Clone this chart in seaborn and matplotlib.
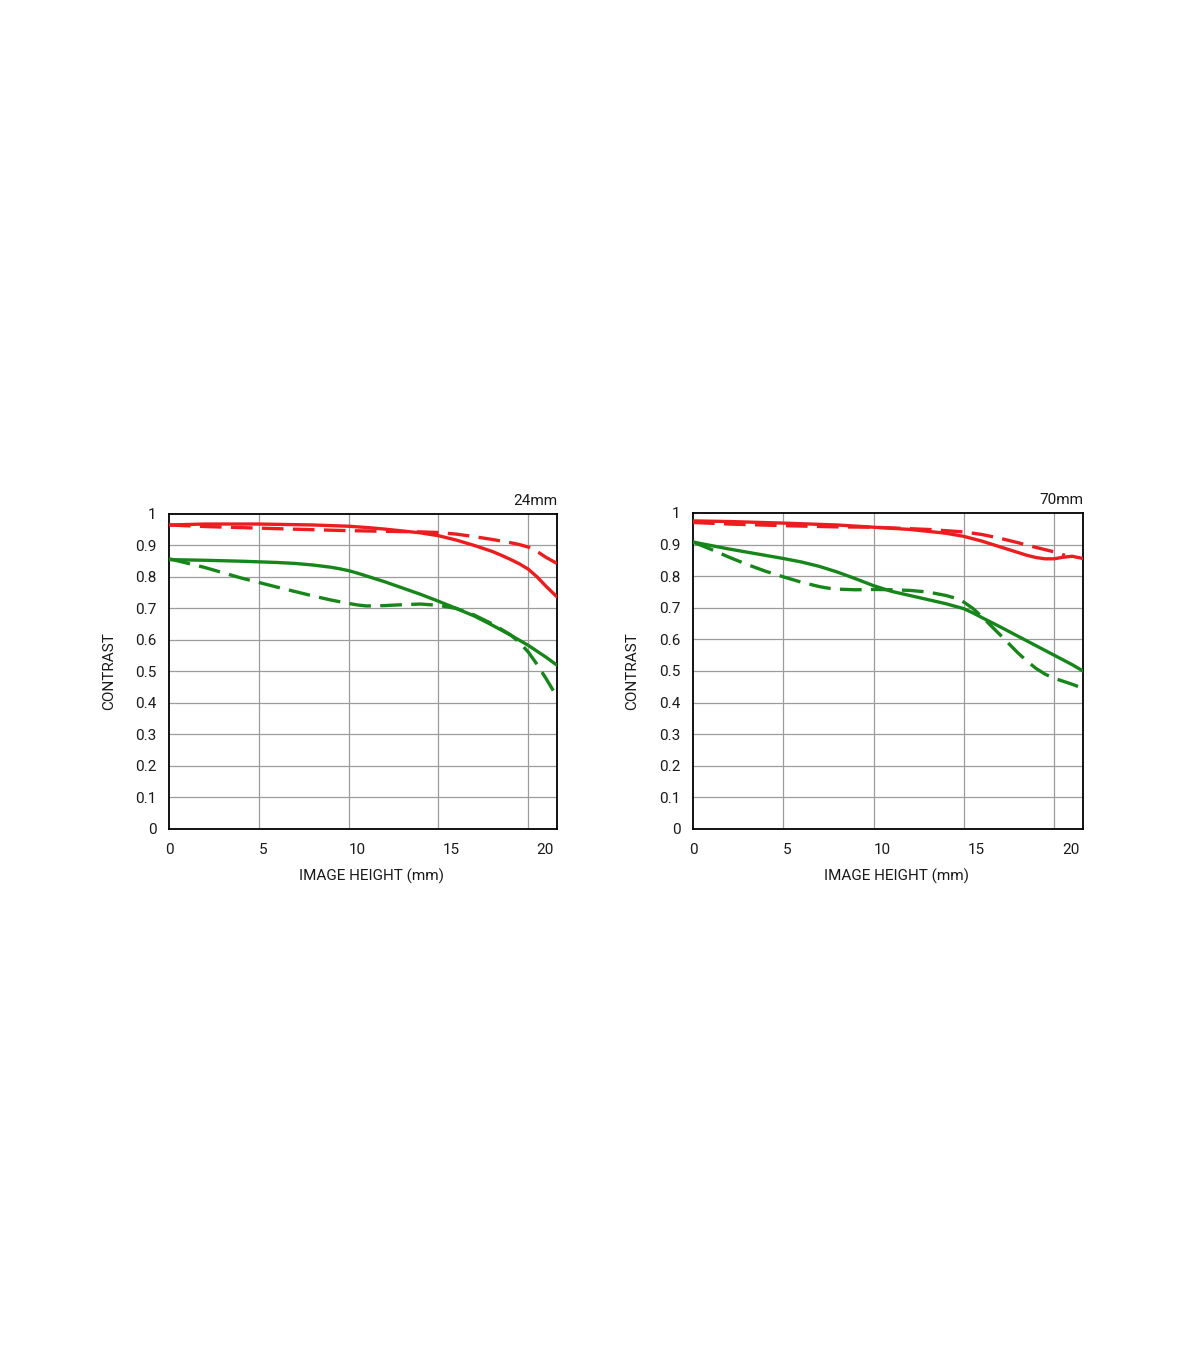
import matplotlib as mpl
mpl.use('agg')
import matplotlib.pyplot as plt
import numpy as np
import pandas as pd
import seaborn as sns

# MTF values (image height in mm -> contrast)
x_24_rs = [0, 2, 5, 8, 10, 11, 12, 13, 14, 15, 16, 17, 18, 18.5, 19, 19.5, 20, 20.5, 21, 21.6]
y_24_rs = [0.965, 0.968, 0.968, 0.965, 0.961, 0.957, 0.952, 0.946, 0.94, 0.931, 0.917, 0.9, 0.881, 0.869, 0.856, 0.842, 0.825, 0.80, 0.77, 0.737]
x_24_rd = [0, 2, 5, 8, 10, 12, 14, 15, 16, 17, 18, 19, 19.5, 20, 20.6, 21, 21.6]
y_24_rd = [0.965, 0.96, 0.955, 0.95, 0.947, 0.945, 0.943, 0.941, 0.936, 0.928, 0.919, 0.909, 0.903, 0.895, 0.877, 0.862, 0.843]
x_24_gs = [0, 2, 4, 6, 7, 8, 9, 9.5, 10, 10.5, 11, 11.5, 12, 13, 14, 15, 16, 17, 18, 19, 20, 21, 21.6]
y_24_gs = [0.855, 0.853, 0.85, 0.846, 0.843, 0.838, 0.831, 0.826, 0.82, 0.812, 0.803, 0.794, 0.785, 0.765, 0.745, 0.723, 0.70, 0.676, 0.647, 0.616, 0.583, 0.545, 0.52]
x_24_gd = [0, 2, 4, 6, 8, 9, 10, 10.5, 11, 12, 13, 14, 15, 16, 17, 18, 19, 19.5, 20, 20.5, 21, 21.6]
y_24_gd = [0.858, 0.83, 0.797, 0.768, 0.74, 0.727, 0.716, 0.711, 0.708, 0.709, 0.712, 0.714, 0.71, 0.70, 0.679, 0.651, 0.617, 0.593, 0.562, 0.522, 0.477, 0.42]

x_70_rs = [0, 2, 5, 8, 10, 12, 14, 15, 16, 17, 18, 18.5, 19, 19.5, 20, 20.5, 21, 21.6]
y_70_rs = [0.975, 0.973, 0.968, 0.962, 0.955, 0.948, 0.936, 0.926, 0.911, 0.893, 0.875, 0.866, 0.859, 0.855, 0.855, 0.86, 0.863, 0.856]
x_70_rd = [0, 2, 5, 8, 10, 13, 15, 16, 17, 18, 19, 20, 20.6]
y_70_rd = [0.97, 0.965, 0.96, 0.956, 0.955, 0.948, 0.94, 0.932, 0.92, 0.906, 0.891, 0.877, 0.866]
x_70_gs = [0, 2, 4, 5, 6, 7, 8, 9, 10, 11, 12, 13, 14, 15, 15.5, 16, 17, 18, 19, 20, 21, 21.6]
y_70_gs = [0.908, 0.886, 0.866, 0.856, 0.845, 0.831, 0.813, 0.792, 0.77, 0.752, 0.739, 0.726, 0.713, 0.697, 0.684, 0.669, 0.64, 0.61, 0.58, 0.55, 0.52, 0.50]
x_70_gd = [0, 1, 2, 3, 4, 5, 6, 7, 7.5, 8, 9, 10, 11, 12, 13, 14, 14.5, 15, 15.5, 16, 17, 18, 18.5, 19, 19.5, 20, 21, 21.6]
y_70_gd = [0.908, 0.885, 0.86, 0.837, 0.816, 0.798, 0.781, 0.767, 0.762, 0.759, 0.757, 0.758, 0.757, 0.755, 0.75, 0.739, 0.731, 0.718, 0.698, 0.672, 0.615, 0.557, 0.531, 0.508, 0.49, 0.477, 0.458, 0.445]

x_ticks = [0, 5, 10, 15, 20]
y_ticks = [0, 0.1, 0.2, 0.3, 0.4, 0.5, 0.6, 0.7, 0.8, 0.9, 1]
y_labels = ['0', '0.1', '0.2', '0.3', '0.4', '0.5', '0.6', '0.7', '0.8', '0.9', '1']

panels = {
    '24mm': [('red', 'S', x_24_rs, y_24_rs), ('red', 'M', x_24_rd, y_24_rd),
             ('green', 'S', x_24_gs, y_24_gs), ('green', 'M', x_24_gd, y_24_gd)],
    '70mm': [('red', 'S', x_70_rs, y_70_rs), ('red', 'M', x_70_rd, y_70_rd),
             ('green', 'S', x_70_gs, y_70_gs), ('green', 'M', x_70_gd, y_70_gd)],
}

sns.set_style("white")
plt.rcParams['font.family'] = ['Roboto', 'DejaVu Sans']

fig = plt.figure(figsize=(12, 13.72), dpi=100)
positions = {'24mm': [0.1408, 0.3958, 0.3233, 0.2296],
             '70mm': [0.5775, 0.3958, 0.3250, 0.2303]}

palette = {'red': '#ec1c1f', 'green': '#17861a'}
dashes = {'S': '', 'M': (6.5, 2.8)}
txt_col = '#1a1a1a'

for name, series in panels.items():
    ax = fig.add_axes(positions[name])
    rows = []
    for col, kind, xs, ys in series:
        for xv, yv in zip(xs, ys):
            rows.append({'x': xv, 'y': yv, 'col': col, 'kind': kind, 'id': col + kind})
    df = pd.DataFrame(rows)
    sns.lineplot(data=df, x='x', y='y', hue='col', style='kind', units='id',
                 estimator=None, sort=False, palette=palette, dashes=dashes,
                 linewidth=2.4, legend=False, ax=ax, zorder=3)

    ax.set_xlim(0, 21.6)
    ax.set_ylim(0, 1)
    # grid lines at the real values
    for gx in x_ticks[1:]:
        ax.axvline(gx, color='#9c9c9c', lw=0.9, zorder=1)
    for gy in y_ticks[1:-1]:
        ax.axhline(gy, color='#9c9c9c', lw=0.9, zorder=1)
    # tick labels in the original sit slightly right of their grid lines
    ax.set_xticks([t * 1.047 for t in x_ticks])
    ax.set_xticklabels([str(t) for t in x_ticks])
    ax.set_yticks(y_ticks)
    ax.set_yticklabels(y_labels)
    ax.tick_params(axis='both', length=0, labelsize=11, colors=txt_col)
    ax.tick_params(axis='x', pad=10)
    ax.tick_params(axis='y', pad=9)
    for sp in ax.spines.values():
        sp.set_visible(True)
        sp.set_color('black')
        sp.set_linewidth(1.3)

    ax.set_xlabel('IMAGE HEIGHT (mm)', fontsize=11, color=txt_col)
    ax.xaxis.set_label_coords(0.523, -0.127)
    ax.set_ylabel('CONTRAST', fontsize=11, color=txt_col)
    ax.yaxis.set_label_coords(-0.137, 0.5)
    ax.text(1.0, 1.018, name, transform=ax.transAxes, ha='right', va='bottom',
            fontsize=11, color=txt_col)

plt.savefig('out.png', dpi=100)
